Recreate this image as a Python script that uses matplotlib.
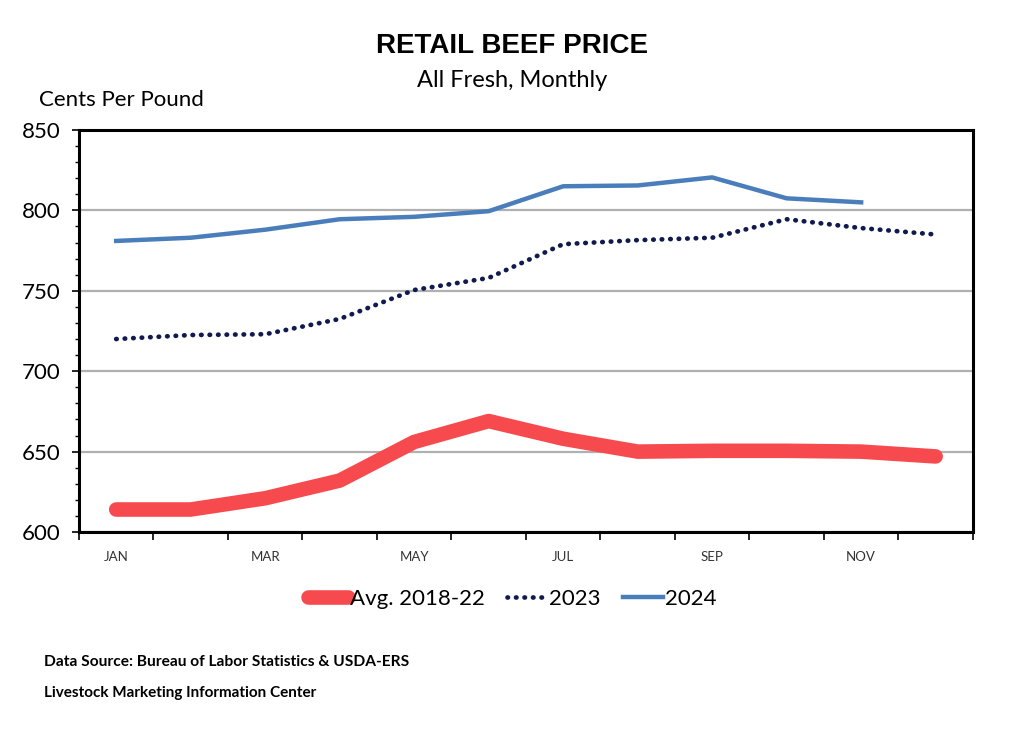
import numpy as np
import matplotlib.pyplot as plt
from matplotlib.ticker import MultipleLocator, FixedLocator

months = ['JAN', 'FEB', 'MAR', 'APR', 'MAY', 'JUN', 'JUL', 'AUG', 'SEP', 'OCT', 'NOV', 'DEC']
avg_2018_22 = [614, 614, 621, 632, 656, 669, 658, 650, 650.5, 650.5, 650, 647]
y2023 = [720, 722.5, 723, 732.5, 750.5, 758, 779, 781.5, 783, 794.5, 789, 785]
y2024 = [781, 783, 788, 794.5, 796, 799.5, 815, 815.5, 820.5, 807.5, 805]

plt.rcParams['font.family'] = ['Lato', 'DejaVu Sans']

fig = plt.figure(figsize=(10.24, 7.29), dpi=100)
ax = fig.add_axes([0.0771, 0.2702, 0.8730, 0.5515])

x = np.arange(len(months))
ax.plot(x, avg_2018_22, color='#F64A4E', lw=10.5, solid_capstyle='round',
        solid_joinstyle='round', label='Avg. 2018-22', zorder=3)
ax.plot(x, y2023, color='#101A4E', lw=3.4, linestyle=(0, (0.1, 1.7)),
        dash_capstyle='round', label='2023', zorder=4)
ax.plot(x[:len(y2024)], y2024, color='#4A7EBB', lw=3.2, label='2024', zorder=4)

# y axis
ax.set_ylim(600, 850)
ax.set_xlim(-0.5, 11.5)
ax.yaxis.set_major_locator(MultipleLocator(50))
ax.yaxis.set_minor_locator(MultipleLocator(10))
ax.grid(axis='y', which='major', color='#B0B0B0', lw=1.6, zorder=1)
ax.tick_params(axis='y', which='major', labelsize=16, length=5, width=1.2, pad=8)
ax.tick_params(axis='y', which='minor', length=3, width=1)

# x axis: ticks between categories, labels every other month
ax.xaxis.set_major_locator(FixedLocator(np.arange(-0.5, 12, 1)))
ax.set_xticklabels([])
ax.xaxis.set_minor_locator(FixedLocator(x[::2]))
ax.set_xticklabels(months[::2], minor=True)
ax.tick_params(axis='x', which='major', length=6, width=1.2)
ax.tick_params(axis='x', which='minor', length=0, labelsize=9.5, pad=14,
               labelcolor='#333333')

for s in ax.spines.values():
    s.set_color('black')
    s.set_linewidth(2.2)

fig.text(0.5, 0.937, 'RETAIL BEEF PRICE', ha='center', va='center',
         fontsize=20, fontweight='bold', family=['Liberation Sans', 'DejaVu Sans'])
fig.text(0.5, 0.890, 'All Fresh, Monthly', ha='center', va='center', fontsize=17)
fig.text(0.038, 0.863, 'Cents Per Pound', ha='left', va='center', fontsize=16)

leg = fig.legend(loc='center', bbox_to_anchor=(0.5, 0.179), ncol=3, frameon=False,
                 fontsize=16, handlelength=1.8, handletextpad=0.1, columnspacing=1.0)

fig.text(0.043, 0.092, 'Data Source: Bureau of Labor Statistics & USDA-ERS',
         ha='left', va='center', fontsize=11.2, fontweight='bold')
fig.text(0.043, 0.050, 'Livestock Marketing Information Center',
         ha='left', va='center', fontsize=11, fontweight='bold')

fig.savefig('out.png', dpi=100)
